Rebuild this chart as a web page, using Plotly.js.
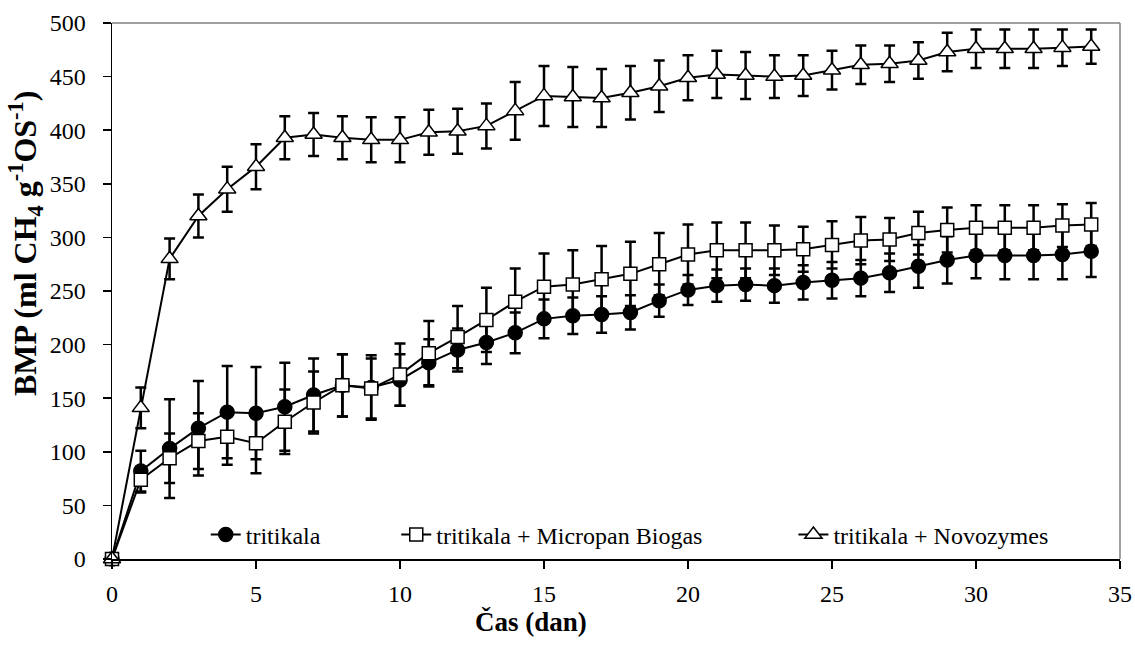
<!DOCTYPE html>
<html>
<head>
<meta charset="utf-8">
<script src="https://cdn.plot.ly/plotly-3.0.1.min.js"></script>
<style>html,body{margin:0;padding:0;background:#fff;}#chart{width:1135px;height:645px;}</style>
</head>
<body>
<div id="chart"></div>
<script>
const days = [0,1,2,3,4,5,6,7,8,9,10,11,12,13,14,15,16,17,18,19,20,21,22,23,24,25,26,27,28,29,30,31,32,33,34];

const tritikala = [0,82,103,122,137,136,142,153,162,160,167,183,195,202,211,224,227,228,230,241,251,255,256,255,258,260,262,267,273,279,283,283,283,284,287];
const tritikalaErr = [0,19,46,44,43,43,41,34,29,30,24,22,20,20,19,18,17,17,16,15,14,15,15,16,16,17,17,18,20,22,21,22,22,23,24];

const micropan = [0,74,94,110,114,108,128,146,162,159,172,192,207,223,240,254,256,261,266,275,284,288,288,288,289,293,297,298,304,307,309,309,309,311,312];
const micropanErr = [0,12,23,26,26,28,30,29,29,28,29,30,29,30,31,31,32,31,30,29,28,26,26,23,21,22,22,20,20,21,21,21,21,20,20];

const novozymes = [0,141,280,320,345,366,393,396,393,391,391,398,399,404,418,432,431,430,435,441,449,452,451,450,451,456,461,462,465,473,476,476,476,477,478];
const novozymesErr = [0,19,19,20,21,21,20,20,20,21,21,21,21,21,27,28,28,27,25,24,21,22,22,20,19,18,18,17,17,18,18,18,18,17,16];

const xTicks = [0,5,10,15,20,25,30,35];
const yTicks = [0,50,100,150,200,250,300,350,400,450,500];
const seriesNames = ['tritikala', 'tritikala + Micropan Biogas', 'tritikala + Novozymes'];
const xTitle = 'Čas (dan)';
const yTitle = 'BMP (ml CH<sub>4</sub> g<sup>-1</sup>OS<sup>-1</sup>)';

const FONT = '"Liberation Serif", "Times New Roman", Times, serif';
const FS = 24;
const errStyle = {type: 'data', visible: true, color: '#000', thickness: 2.5, width: 5.5};

function mk(y, err, name, symbol, fill, size, legendId) {
  return {
    x: days, y: y, name: name, type: 'scatter', mode: 'lines+markers',
    line: {color: '#000', width: 2},
    marker: {symbol: symbol, size: size, color: fill, line: {color: '#000', width: 1.5}},
    error_y: Object.assign({array: err}, errStyle),
    legend: legendId, cliponaxis: false
  };
}

const data = [
  mk(tritikala, tritikalaErr, seriesNames[0], 'circle', '#000', 14, 'legend'),
  mk(micropan, micropanErr, seriesNames[1], 'square', '#fff', 13, 'legend2'),
  mk(novozymes, novozymesErr, seriesNames[2], 'triangle-up', '#fff', 15, 'legend3')
];

const legBase = {orientation: 'h', yanchor: 'middle', y: 0.045, xanchor: 'left',
  bgcolor: 'rgba(0,0,0,0)', font: {family: FONT, size: FS, color: '#000'}, borderwidth: 0};

const layout = {
  width: 1135, height: 645,
  margin: {l: 112, r: 15, t: 23, b: 86, pad: 0},
  paper_bgcolor: '#fff', plot_bgcolor: '#fff',
  font: {family: FONT, size: FS, color: '#000'},
  showlegend: true,
  legend: Object.assign({}, legBase, {x: 0.093}),
  legend2: Object.assign({}, legBase, {x: 0.282}),
  legend3: Object.assign({}, legBase, {x: 0.676}),
  xaxis: {
    range: [0, 35], tickvals: xTicks, showgrid: false, zeroline: false,
    showline: true, linecolor: '#000', linewidth: 1.5,
    ticks: 'outside', ticklen: 8, tickwidth: 1.5, tickcolor: '#000',
    ticklabelstandoff: 5,
    tickfont: {family: FONT, size: FS, color: '#000'},
    automargin: false
  },
  yaxis: {
    range: [0, 500], tickvals: yTicks, showgrid: false, zeroline: false,
    showline: true, linecolor: '#000', linewidth: 1.5,
    ticks: 'outside', ticklen: 8, tickwidth: 1.5, tickcolor: '#000',
    ticklabelstandoff: 12,
    tickfont: {family: FONT, size: FS, color: '#000'},
    automargin: false
  },
  annotations: [
    {text: '<b>' + xTitle + '</b>', xref: 'paper', yref: 'paper', x: 0.4157, y: -0.1175,
     xanchor: 'center', yanchor: 'middle', showarrow: false,
     font: {family: FONT, size: 27, color: '#000'}},
    {text: '<b>' + yTitle + '</b>', xref: 'paper', yref: 'paper', x: -0.0853, y: 0.5877,
     xanchor: 'center', yanchor: 'middle', showarrow: false, textangle: -90,
     font: {family: FONT, size: 32, color: '#000'}}
  ],
  shapes: [
    {type: 'line', xref: 'paper', yref: 'paper', x0: 0, x1: 1, y0: 1, y1: 1, line: {color: '#808080', width: 1.5}},
    {type: 'line', xref: 'paper', yref: 'paper', x0: 1, x1: 1, y0: 0, y1: 1, line: {color: '#808080', width: 1.5}}
  ]
};

Plotly.newPlot('chart', data, layout, {displayModeBar: false, staticPlot: true});
</script>
</body>
</html>
